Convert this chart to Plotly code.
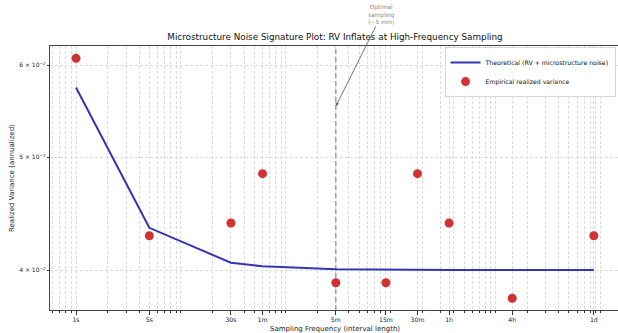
import math
import plotly.graph_objects as go

# ---- data ----
intervals_sec = [1, 5, 30, 60, 300, 900, 1800, 3600, 14400, 86400]
interval_labels = ["1s", "5s", "30s", "1m", "5m", "15m", "30m", "1h", "4h", "1d"]
theoretical_rv = [0.0574, 0.04348, 0.04058, 0.04029, 0.04006, 0.04002, 0.04001, 0.04000, 0.04000, 0.04000]
empirical_rv = [0.0608, 0.0428, 0.0439, 0.0484, 0.0390, 0.0390, 0.0484, 0.0439, 0.03783, 0.0428]
y_tick_vals = [0.04, 0.05, 0.06]
y_tick_text = ["4 × 10<sup>−2</sup>", "5 × 10<sup>−2</sup>", "6 × 10<sup>−2</sup>"]
optimal_interval = 300
annotation_y = 0.0553

X_RANGE = [-0.248, 5.167]
Y_RANGE = [-1.4323, -1.2055]
FONT = "DejaVu Sans"
W, H = 618, 333
ML, MR, MT, MB = 50, 0, 46, 23

minor_vals = [k * 10 ** n for n in range(-1, 6) for k in range(1, 10)
              if X_RANGE[0] <= math.log10(k * 10 ** n) <= X_RANGE[1]]

fig = go.Figure()

# optimal sampling vertical dashed line
fig.add_trace(go.Scatter(
    x=[optimal_interval, optimal_interval],
    y=[10 ** Y_RANGE[0], 10 ** Y_RANGE[1]],
    mode="lines", line=dict(color="#8a8a8a", width=1.2, dash="5px,3px"),
    showlegend=False, hoverinfo="skip", cliponaxis=False))

fig.add_trace(go.Scatter(
    x=intervals_sec, y=theoretical_rv, mode="lines",
    name="Theoretical (RV + microstructure noise)",
    line=dict(color="#3434b4", width=2)))

fig.add_trace(go.Scatter(
    x=intervals_sec, y=empirical_rv, mode="markers",
    name="Empirical realized variance",
    marker=dict(color="#d23232", size=9, line=dict(width=0))))

# invisible trace to host minor-grid axis
fig.add_trace(go.Scatter(x=[intervals_sec[0]], y=[empirical_rv[0]], xaxis="x2",
                         mode="markers", marker=dict(opacity=0), showlegend=False,
                         hoverinfo="skip"))

grid_kw = dict(showgrid=True, gridcolor="#dcdcdc", griddash="3px,2px", gridwidth=0.7)

fig.update_layout(
    width=W, height=H,
    margin=dict(l=ML, r=MR, t=MT, b=MB, autoexpand=False),
    paper_bgcolor="white", plot_bgcolor="white",
    font=dict(family=FONT, color="#222"),
    title=dict(text="Microstructure Noise Signature Plot: RV Inflates at High-Frequency Sampling",
               x=(ML + 620) / 2 / W, xanchor="center", y=1 - 37 / H, yanchor="middle",
               font=dict(size=8.8, family=FONT, color="#111")),
    xaxis=dict(type="log", range=X_RANGE, tickvals=intervals_sec, ticktext=interval_labels,
               ticks="outside", ticklen=3.5, tickwidth=0.8, tickcolor="#333",
               tickfont=dict(size=6.2, family=FONT, color="#222"),
               showline=True, linecolor="#444", linewidth=1.2, mirror=True,
               zeroline=False, automargin=False, **grid_kw),
    xaxis2=dict(type="log", range=X_RANGE, overlaying="x", side="bottom", anchor="y",
                tickvals=minor_vals, showticklabels=False,
                ticks="outside", ticklen=2, tickwidth=0.6, tickcolor="#333",
                showline=False, zeroline=False, automargin=False, **grid_kw),
    yaxis=dict(type="log", range=Y_RANGE, tickvals=y_tick_vals, ticktext=y_tick_text,
               ticks="outside", ticklen=2, tickwidth=0.6, tickcolor="#333",
               tickfont=dict(size=6, family=FONT, color="#222"),
               showline=True, linecolor="#444", linewidth=1.2, zeroline=False,
               automargin=False, **grid_kw),
    legend=dict(x=0.996, y=0.995, xanchor="right", yanchor="top",
                bgcolor="rgba(255,255,255,0.9)", bordercolor="#cccccc", borderwidth=0.8,
                font=dict(size=6.2, family=FONT, color="#111"),
                itemwidth=30, tracegroupgap=0),
    showlegend=True,
)

# axis titles
fig.add_annotation(text="Sampling Frequency (interval length)", xref="paper", yref="paper",
                   x=(335 - ML) / (W - ML - MR), y=-(328.5 - (H - MB)) / (H - MT - MB),
                   xanchor="center", yanchor="middle", showarrow=False,
                   font=dict(size=7, family=FONT, color="#222"))
fig.add_annotation(text="Realized Variance (annualized)", xref="paper", yref="paper",
                   x=-(ML - 12) / (W - ML - MR), y=0.5, textangle=-90,
                   xanchor="center", yanchor="middle", showarrow=False,
                   font=dict(size=7, family=FONT, color="#222"))

fig.add_annotation(
    x=math.log10(optimal_interval), y=math.log10(annotation_y), xref="x", yref="y",
    text="Optimal<br>sampling<br>(~5 min)", showarrow=True,
    arrowhead=2, arrowsize=0.8, arrowwidth=0.9, arrowcolor="#666",
    ax=46, ay=-92, font=dict(size=5.8, family=FONT, color="#888"), align="center")

fig.write_html("out.html", config={"displayModeBar": False},
               post_script="document.body.style.margin='0';")
